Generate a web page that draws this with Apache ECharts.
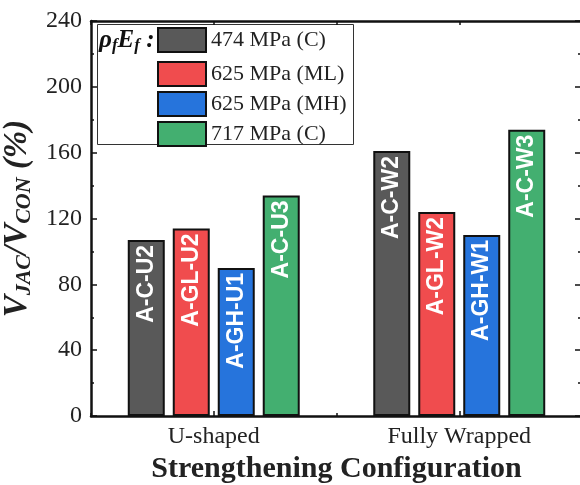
<!DOCTYPE html>
<html>
<head>
<meta charset="utf-8">
<script src="https://cdn.jsdelivr.net/npm/echarts@6/dist/echarts.min.js"></script>
<style>html,body{margin:0;padding:0;background:#fff;}#c{width:580px;height:485px;}</style>
</head>
<body>
<div id="c"></div>
<script>
const categories = ['U-shaped', 'Fully Wrapped'];
const seriesNames = ['474 MPa (C)', '625 MPa (ML)', '625 MPa (MH)', '717 MPa (C)'];
const v474C = [107, 161];
const v625ML = [114, 124];
const v625MH = [90, 110];
const v717C = [134, 174];
const lab474C = ['A-C-U2', 'A-C-W2'];
const lab625ML = ['A-GL-U2', 'A-GL-W2'];
const lab625MH = ['A-GH-U1', 'A-GH-W1'];
const lab717C = ['A-C-U3', 'A-C-W3'];
const yMin = 0, yMax = 240, yStep = 40;
const colors = ['#595959', '#F04C4E', '#2674DC', '#43AF70'];

const values = [v474C, v625ML, v625MH, v717C];
const labels = [lab474C, lab625ML, lab625MH, lab717C];

const serif = 'Liberation Serif';
const chart = echarts.init(document.getElementById('c'), null, {renderer: 'canvas'});

const series = seriesNames.map((name, i) => ({
  name: name,
  type: 'bar',
  xAxisIndex: 0,
  yAxisIndex: 0,
  data: values[i],
  barWidth: 37,
  barGap: '21.6%',
  itemStyle: {color: colors[i], borderColor: '#111', borderWidth: 2},
  label: {
    show: true,
    position: 'insideTop',
    distance: 5,
    rotate: 90,
    align: 'right',
    verticalAlign: 'middle',
    color: '#fff',
    fontFamily: 'Liberation Sans',
    fontWeight: 'bold',
    fontSize: 23,
    formatter: p => labels[i][p.dataIndex]
  }
}));

const axisLineStyle = {color: '#111', width: 2.5};

chart.setOption({
  animation: false,
  backgroundColor: '#fff',
  grid: {left: 91, right: -2, top: 21, bottom: 69, containLabel: false, outerBoundsMode: 'none'},
  legend: [
    {
      data: [seriesNames[0]],
      left: 157, top: 27,
      itemWidth: 48, itemHeight: 24, itemGap: 4,
      icon: 'rect',
      textStyle: {fontFamily: serif, fontSize: 22, color: '#222'},
      padding: 0
    },
    {
      data: seriesNames.slice(1),
      orient: 'vertical',
      left: 157, top: 61,
      itemWidth: 48, itemHeight: 24, itemGap: 4,
      icon: 'rect',
      textStyle: {fontFamily: serif, fontSize: 22, color: '#222'},
      padding: 0
    }
  ],
  graphic: [
    {
      type: 'rect', z: 0,
      shape: {x: 97.5, y: 24.5, width: 256, height: 120},
      style: {fill: '#fff', stroke: '#333', lineWidth: 1}
    },
    {
      type: 'text', z: 5,
      left: 99, top: 28,
      style: {
        text: '{a|ρ}{s|f}{a|E}{s|f}{a| :}',
        rich: {
          a: {fontFamily: serif, fontStyle: 'italic', fontWeight: 'bold', fontSize: 25, fill: '#111', color: '#111'},
          s: {fontFamily: serif, fontStyle: 'italic', fontWeight: 'bold', fontSize: 17, fill: '#111', color: '#111', padding: [10, 0, 0, 0]}
        }
      }
    }
  ],
  xAxis: [
    {
      type: 'category', data: categories, position: 'bottom',
      axisLine: {show: true, lineStyle: axisLineStyle},
      axisTick: {show: true, alignWithLabel: true, inside: true, length: 5, lineStyle: {color: '#111', width: 1.5}},
      axisLabel: {fontFamily: serif, fontSize: 24, color: '#222', margin: 9},
      name: 'Strengthening Configuration',
      nameLocation: 'middle', nameGap: 34,
      nameTextStyle: {fontFamily: serif, fontWeight: 'bold', fontSize: 30, color: '#222'}
    },
    {
      type: 'category', data: categories, position: 'bottom',
      axisLine: {show: false},
      axisTick: {show: true, alignWithLabel: false, inside: true, length: 3, lineStyle: {color: '#111', width: 1.5}},
      axisLabel: {show: false}
    },
    {
      type: 'category', data: categories, position: 'top',
      axisLine: {show: true, lineStyle: axisLineStyle},
      axisTick: {show: true, alignWithLabel: true, inside: true, length: 4, lineStyle: {color: '#111', width: 1.5}},
      axisLabel: {show: false}
    },
    {
      type: 'category', data: categories, position: 'top',
      axisLine: {show: false},
      axisTick: {show: true, alignWithLabel: false, inside: true, length: 4, lineStyle: {color: '#111', width: 1.5}},
      axisLabel: {show: false}
    }
  ],
  yAxis: [
    {
      type: 'value', min: yMin, max: yMax, interval: yStep, position: 'left',
      axisLine: {show: true, lineStyle: axisLineStyle},
      axisTick: {show: true, inside: true, length: 6, lineStyle: {color: '#111', width: 1.5}},
      minorTick: {show: true, splitNumber: 2, length: 3, lineStyle: {color: '#111', width: 1.5}},
      splitLine: {show: false},
      axisLabel: {fontFamily: serif, fontSize: 24, color: '#222', margin: 9},
      name: '{v|V}{s|JAC}{v|/V}{s|CON}{v| (%)}',
      nameLocation: 'middle', nameRotate: 90, nameGap: 50,
      nameTextStyle: {
        rich: {
          v: {fontFamily: serif, fontStyle: 'italic', fontWeight: 'bold', fontSize: 33, color: '#222'},
          s: {fontFamily: serif, fontStyle: 'italic', fontWeight: 'bold', fontSize: 22, color: '#222', padding: [14, 0, 0, 0]}
        }
      }
    },
    {
      type: 'value', min: yMin, max: yMax, interval: yStep, position: 'right',
      axisLine: {show: true, lineStyle: axisLineStyle},
      axisTick: {show: true, inside: true, length: 7, lineStyle: {color: '#111', width: 1.5}},
      minorTick: {show: true, splitNumber: 2, length: 4, lineStyle: {color: '#111', width: 1.5}},
      splitLine: {show: false},
      axisLabel: {show: false}
    }
  ],
  series: series
});
</script>
</body>
</html>
